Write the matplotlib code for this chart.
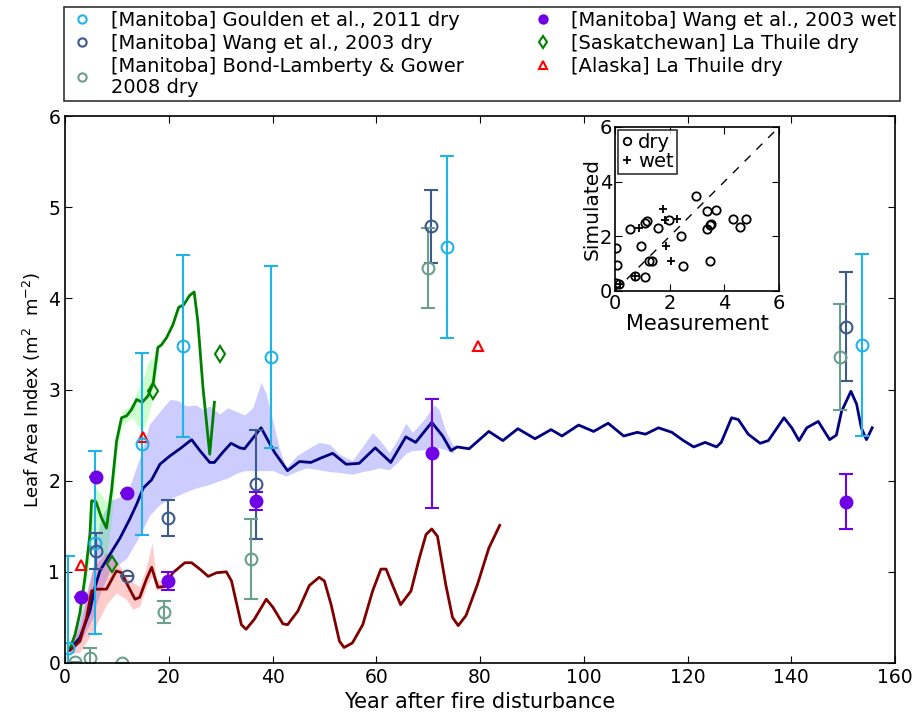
import numpy as np
import matplotlib
matplotlib.use('Agg')
import matplotlib.pyplot as plt
from matplotlib.lines import Line2D

# ---- measurements (year after fire, LAI, error) ----
goulden_x = [0.6, 5.8, 14.8, 22.7, 39.8, 73.6, 153.6]
goulden_y = [0.17, 1.32, 2.40, 3.48, 3.36, 4.56, 3.49]
goulden_err = [1.0, 1.0, 1.0, 1.0, 1.0, 1.0, 1.0]

wang_dry_x = [6.0, 12.0, 19.9, 36.9, 70.6, 150.5]
wang_dry_y = [1.23, 0.95, 1.59, 1.96, 4.79, 3.69]
wang_dry_err = [0.2, 0.0, 0.2, 0.6, 0.4, 0.6]

bond_x = [1.9, 4.9, 10.9, 19.0, 35.9, 69.9, 149.4]
bond_y = [0.01, 0.06, 0.0, 0.56, 1.14, 4.33, 3.36]
bond_err = [0.0, 0.11, 0.0, 0.12, 0.44, 0.44, 0.58]

wang_wet_x = [3.0, 6.0, 12.0, 19.9, 36.9, 70.7, 150.5]
wang_wet_y = [0.72, 2.04, 1.86, 0.90, 1.78, 2.30, 1.77]
wang_wet_err = [0.0, 0.0, 0.0, 0.1, 0.1, 0.6, 0.3]

sask_x = [9.0, 17.0, 29.9]
sask_y = [1.09, 2.98, 3.39]

alaska_x = [3.0, 15.1, 79.7]
alaska_y = [1.08, 2.48, 3.48]

# ---- simulations ----
manitoba_x = [0.96, 2.88, 4.8, 5.77, 6.73, 8.65, 10.6, 12.5, 13.8, 15.1, 16.7, 18.3,
              20.2, 22.4, 24.4, 26.0, 27.9, 28.8, 30.4, 32.0, 33.7, 34.6, 37.8, 40.4,
              42.9, 45.2, 47.4, 49.4, 51.6, 54.2, 56.7, 59.8, 62.8, 65.7, 67.6, 70.7,
              72.8, 74.4, 75.6, 77.9, 81.7, 84.4, 87.3, 90.6, 93.7, 95.8, 99.0, 101.9,
              104.7, 107.7, 110.3, 111.9, 114.4, 117.0, 119.2, 121.2, 123.4, 125.6,
              126.5, 128.5, 129.8, 131.7, 134.0, 135.6, 138.6, 140.1, 141.5, 143.0,
              145.2, 147.4, 148.7, 149.7, 151.5, 152.6, 153.5, 154.5, 155.6]
manitoba_y = [0.15, 0.28, 0.57, 0.83, 1.01, 1.19, 1.37, 1.58, 1.74, 1.92, 2.01, 2.18,
              2.27, 2.36, 2.45, 2.33, 2.20, 2.20, 2.31, 2.41, 2.36, 2.35, 2.58, 2.31,
              2.11, 2.21, 2.20, 2.25, 2.30, 2.18, 2.19, 2.36, 2.20, 2.48, 2.42, 2.64,
              2.49, 2.33, 2.37, 2.35, 2.54, 2.44, 2.57, 2.46, 2.56, 2.49, 2.61, 2.54,
              2.63, 2.49, 2.53, 2.51, 2.58, 2.53, 2.44, 2.37, 2.42, 2.37,
              2.42, 2.69, 2.67, 2.51, 2.41, 2.44, 2.69, 2.58, 2.44, 2.58,
              2.65, 2.45, 2.50, 2.76, 2.98, 2.84, 2.58, 2.45, 2.58]

manitoba_band_x = [0.96, 2.9, 5.4, 5.8, 7.0, 8.65, 11.9, 14.4, 16.3, 18.3, 20.2, 21.8,
                   23.4, 25.3, 26.6, 27.9, 29.8, 31.4, 33.0, 34.6, 36.2, 37.8, 38.8,
                   40.1, 41.3, 42.6, 44.6, 46.5, 49.0, 51.0, 52.9, 55.4, 57.4, 59.3,
                   60.6, 62.5, 64.1, 65.7, 67.0, 69.2, 71.2, 72.1, 73.4, 74.7, 75.5]
manitoba_band_hi = [0.18, 0.50, 1.05, 1.30, 1.60, 1.78, 1.85, 2.25, 2.62, 2.76, 2.89, 2.88,
                    2.82, 2.83, 2.78, 2.82, 2.73, 2.80, 2.76, 2.72, 2.80, 3.08, 2.95,
                    2.65, 2.36, 2.14, 2.27, 2.34, 2.42, 2.40, 2.29, 2.22, 2.38, 2.53,
                    2.45, 2.31, 2.45, 2.63, 2.53, 2.67, 2.83, 2.78, 2.54, 2.40, 2.37]
manitoba_band_lo = [0.12, 0.22, 0.50, 0.60, 0.80, 1.01, 1.15, 1.40, 1.62, 1.74, 1.80, 1.84,
                    1.88, 1.92, 1.94, 1.96, 2.00, 2.03, 2.08, 2.11, 2.11, 2.11, 2.11,
                    2.11, 2.08, 2.05, 2.10, 2.14, 2.12, 2.10, 2.09, 2.07, 2.10, 2.12,
                    2.14, 2.12, 2.20, 2.30, 2.33, 2.34, 2.35, 2.36, 2.34, 2.30, 2.37]

sask_sim_x = [0.83, 1.92, 2.88, 3.85, 4.8, 5.13, 5.96, 7.05, 8.0, 8.97, 9.93, 10.9,
              11.86, 12.82, 13.8, 14.9, 16.0, 17.0, 17.9, 18.6, 19.6, 20.8, 21.9, 22.9,
              24.0, 24.9, 25.6, 26.6, 27.9, 28.8]
sask_sim_y = [0.14, 0.31, 0.55, 0.94, 1.41, 1.78, 1.77, 1.59, 1.48, 1.89, 2.43, 2.69,
              2.71, 2.78, 2.89, 2.86, 2.93, 3.07, 3.46, 3.49, 3.57, 3.71, 3.90, 3.93,
              4.03, 4.07, 3.75, 3.02, 2.29, 2.86]
sask_band_x = [3.0, 4.0, 5.0, 6.0, 7.0, 8.0, 9.0, 10.0, 11.0, 13.0, 14.0, 15.0, 16.0, 17.0, 18.0]
sask_band_lo = [0.50, 0.85, 1.25, 1.45, 1.20, 1.15, 1.60, 2.30, 2.60, 2.70, 2.60, 2.55, 2.70, 2.90, 3.35]
sask_band_hi = [0.60, 1.05, 1.60, 1.92, 1.85, 1.75, 2.00, 2.50, 2.75, 2.85, 3.00, 3.10, 3.30, 3.35, 3.55]

alaska_sim_x = [0.96, 2.88, 4.17, 5.13, 6.09, 8.0, 9.9, 10.9, 12.2, 13.5, 14.4, 15.7, 16.7,
                17.9, 19.2, 20.8, 23.1, 24.4, 26.0, 27.6, 29.2, 31.1, 32.1, 34.0, 34.9,
                36.5, 38.8, 40.1, 42.0, 42.9, 44.9, 47.1, 49.0, 50.0, 51.3, 52.9, 53.8,
                55.4, 57.4, 59.3, 60.9, 61.9, 63.1, 64.7, 66.7, 68.3, 69.6, 70.7, 71.8,
                73.4, 74.7, 75.8, 77.3, 79.5, 81.7, 83.8]
alaska_sim_y = [0.14, 0.24, 0.50, 0.79, 0.81, 0.81, 1.01, 0.99, 0.84, 0.70, 0.72, 0.92, 1.05,
                0.83, 0.84, 0.99, 1.10, 1.10, 1.03, 0.95, 0.99, 1.00, 0.90, 0.42, 0.37,
                0.48, 0.70, 0.61, 0.43, 0.42, 0.57, 0.85, 0.94, 0.90, 0.64, 0.24, 0.17,
                0.22, 0.42, 0.79, 1.03, 1.03, 0.86, 0.64, 0.79, 1.15, 1.41, 1.47, 1.39,
                0.86, 0.50, 0.41, 0.52, 0.86, 1.26, 1.51]
alaska_band_x = [0.96, 2.9, 5.4, 8.0, 9.9, 11.8, 13.1, 14.4, 15.7, 16.8, 17.6, 18.9, 19.5]
alaska_band_hi = [0.18, 0.40, 1.05, 1.21, 1.13, 0.95, 0.88, 0.84, 1.06, 1.32, 0.91, 0.91, 0.86]
alaska_band_lo = [0.10, 0.12, 0.35, 0.64, 0.77, 0.70, 0.59, 0.62, 0.84, 0.95, 0.80, 0.82, 0.84]

# ---- inset: measurement vs simulated ----
dry_meas = [0.16, 0.02, 0.06, 0.05, 0.56, 0.95, 1.11, 1.16, 1.09, 0.73, 1.23, 1.34, 1.59,
            1.97, 2.40, 2.49, 2.98, 3.35, 3.69, 3.35, 3.50, 3.49, 4.31, 4.56, 4.78, 3.48]
dry_sim = [0.24, 1.58, 0.95, 0.30, 2.26, 1.65, 2.50, 2.57, 0.52, 0.55, 1.09, 1.09, 2.32,
           2.58, 2.00, 0.91, 3.48, 2.92, 2.98, 2.26, 2.46, 1.09, 2.63, 2.34, 2.63, 2.40]
wet_meas = [0.18, 0.73, 0.89, 1.76, 1.82, 2.27, 1.87, 2.04]
wet_sim = [0.27, 0.55, 2.31, 2.99, 2.59, 2.63, 1.64, 1.09]

c_goulden = '#1eb4ea'
c_wang = '#3c5a8c'
c_bond = '#6b9e8c'
c_wet = '#7000e6'
c_sask = '#008000'
c_alaska = 'red'

fig = plt.figure(figsize=(9.17, 7.15), dpi=100)
ax = fig.add_axes([65/917, 1 - 663/715, 830/917, 547/715])

ax.fill_between(manitoba_band_x, manitoba_band_lo, manitoba_band_hi, color='blue', alpha=0.2, lw=0)
ax.fill_between(sask_band_x, sask_band_lo, sask_band_hi, color='#00ff00', alpha=0.2, lw=0)
ax.fill_between(alaska_band_x, alaska_band_lo, alaska_band_hi, color='red', alpha=0.2, lw=0)

ax.plot(manitoba_x, manitoba_y, color='#000080', lw=2)
ax.plot(sask_sim_x, sask_sim_y, color=c_sask, lw=2)
ax.plot(alaska_sim_x, alaska_sim_y, color='#800000', lw=2)

ekw = dict(ls='none', ms=8.5, mew=1.5, capsize=5, capthick=1.3, elinewidth=1.5)
ax.errorbar(goulden_x, goulden_y, yerr=goulden_err, fmt='o', color=c_goulden, mfc='none', **ekw)
ax.errorbar(wang_dry_x, wang_dry_y, yerr=wang_dry_err, fmt='o', color=c_wang, mfc='none', **ekw)
ax.errorbar(bond_x, bond_y, yerr=bond_err, fmt='o', color=c_bond, mfc='none', **ekw)
ax.errorbar(wang_wet_x, wang_wet_y, yerr=wang_wet_err, fmt='o', color=c_wet, mec=c_wet, **ekw)
ax.plot(sask_x, sask_y, 'd', ls='none', color=c_sask, mfc='none', ms=8.5, mew=1.5)
ax.plot(alaska_x, alaska_y, '^', ls='none', color=c_alaska, mfc='none', ms=7, mew=1.5)

ax.set_xlim(0, 160)
ax.set_ylim(0, 6)
ax.set_xticks(np.arange(0, 161, 20))
ax.set_yticks(np.arange(0, 7, 1))
ax.tick_params(direction='in', top=True, right=True, length=5, labelsize=13.5)
for s in ax.spines.values():
    s.set_linewidth(1.2)
ax.set_xlabel('Year after fire disturbance', fontsize=15, labelpad=4)
ax.set_ylabel(r'Leaf Area Index (m$^2$  m$^{-2}$)', fontsize=13)

def handle(marker, color, filled=False, ms=7):
    return Line2D([], [], ls='none', marker=marker, color=color,
                  mfc=color if filled else 'none', mec=color, mew=1.5, ms=ms)

handles = [handle('o', c_goulden), handle('o', c_wang), handle('o', c_bond),
           handle('o', c_wet, True), handle('d', c_sask), handle('^', c_alaska, ms=6)]
labels = ['[Manitoba] Goulden et al., 2011 dry', '[Manitoba] Wang et al., 2003 dry',
          '[Manitoba] Bond-Lamberty & Gower\n2008 dry', '[Manitoba] Wang et al., 2003 wet',
          '[Saskatchewan] La Thuile dry', '[Alaska] La Thuile dry']
leg = fig.legend(handles, labels, ncol=2, loc='upper left', mode='expand',
                 bbox_to_anchor=(64/917, 1 - 7/715, 836/917, 0), bbox_transform=fig.transFigure,
                 borderaxespad=0, fontsize=14, handlelength=1.5, handletextpad=0.7,
                 borderpad=0.2, fancybox=False, frameon=True, labelspacing=0.2,
                 markerscale=0.85)
leg.get_frame().set_edgecolor('black')
leg.get_frame().set_linewidth(1.2)
for t in leg.get_texts():
    t.set_linespacing(1.15)

# inset
ins = fig.add_axes([615/917, 1 - 291/715, 164/917, 164/715])
ins.plot([0, 6], [0, 6], 'k--', lw=1, dashes=(6, 6))
ins.plot(dry_meas, dry_sim, 'o', ls='none', mfc='none', mec='black', mew=1.3, ms=6, label='dry')
ins.plot(wet_meas, wet_sim, '+', ls='none', color='black', mew=1.3, ms=6, label='wet')
ins.set_xlim(0, 6)
ins.set_ylim(0, 6)
ins.set_xticks([0, 2, 4, 6])
ins.set_yticks([0, 2, 4, 6])
ins.tick_params(direction='in', top=True, right=True, length=5, labelsize=14, pad=2)
for s in ins.spines.values():
    s.set_linewidth(1.2)
ins.set_xlabel('Measurement', fontsize=15, labelpad=1)
ins.set_ylabel('Simulated', fontsize=14.5, labelpad=-1)
il = ins.legend(loc='upper left', fontsize=14, handlelength=0.6, handletextpad=0.3,
                borderpad=0.15, borderaxespad=0.15, labelspacing=0.0, fancybox=False,
                markerscale=0.9)
il.get_frame().set_edgecolor('black')
il.get_frame().set_linewidth(1.2)

fig.savefig('out.png', dpi=100)
